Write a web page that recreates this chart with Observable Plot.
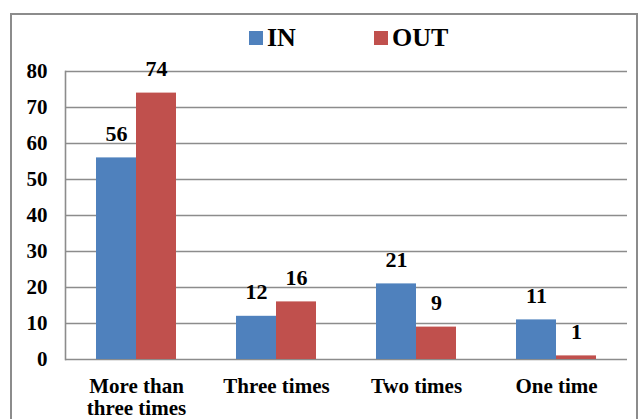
<!DOCTYPE html>
<html>
<head>
<meta charset="utf-8">
<script src="https://cdn.jsdelivr.net/npm/d3@7"></script>
<script src="https://cdn.jsdelivr.net/npm/@observablehq/plot@0.6"></script>
<style>
  html, body { margin: 0; padding: 0; background: #fff; }
  #wrap { position: relative; width: 641px; height: 419px; overflow: hidden; font-family: 'Liberation Serif', serif; font-weight: bold; }
  #border { position: absolute; left: 10px; top: 13px; width: 628px; height: 440px; border: 2px solid #8c8c8c; box-sizing: border-box; }
  #legend { position: absolute; left: 249px; top: 26px; display: flex; align-items: center; font-family: 'Liberation Serif', serif; font-weight: bold; font-size: 26px; line-height: 24px; color: #000; }
  .item { display: flex; align-items: center; width: 125px; }
  .sw { width: 14px; height: 14px; margin-right: 4px; }
  #chart { position: absolute; left: 0; top: 0; }
  #chart svg text { font-family: 'Liberation Serif', serif; font-weight: bold; }
</style>
</head>
<body>
<div id="wrap">
  <div id="border"></div>
  <div id="chart"></div>
  <div id="legend"></div>
</div>
<script>
const categories = ["More than\nthree times", "Three times", "Two times", "One time"];
const series = ["IN", "OUT"];
const inValues = [56, 12, 21, 11];
const outValues = [74, 16, 9, 1];
const colors = ["#4F81BD", "#C0504D"];
const yTicks = [0, 10, 20, 30, 40, 50, 60, 70, 80];

const inRows = categories.map((c, i) => ({category: c, series: "IN", value: inValues[i]}));
const outRows = categories.map((c, i) => ({category: c, series: "OUT", value: outValues[i]}));

const font = "Liberation Serif";

const chart = Plot.plot({
  width: 641,
  height: 419,
  marginLeft: 65,
  marginRight: 14,
  marginTop: 71,
  marginBottom: 60,
  style: {fontFamily: font, fontWeight: "bold", background: "transparent", color: "#000"},
  x: {domain: categories, padding: 0},
  y: {domain: [0, 80]},
  marks: [
    Plot.ruleY(yTicks, {stroke: "#8c8c8c", strokeWidth: 1.6}),
    Plot.barY(inRows, {x: "category", y: "value", fill: colors[0], insetLeft: 30, insetRight: 70}),
    Plot.barY(outRows, {x: "category", y: "value", fill: colors[1], insetLeft: 70, insetRight: 30}),
    Plot.text(inRows, {x: "category", y: "value", text: d => String(d.value), dx: -20, dy: -24, fontSize: 22, fontFamily: font, fontWeight: "bold", fill: "#000"}),
    Plot.text(outRows, {x: "category", y: "value", text: d => String(d.value), dx: 20, dy: -24, fontSize: 22, fontFamily: font, fontWeight: "bold", fill: "#000"}),
    Plot.frame({anchor: "left", stroke: "#8c8c8c", strokeWidth: 1.6}),
    Plot.axisY(yTicks, {tickSize: 0, tickPadding: 18, fontSize: 21, fontFamily: font, fontWeight: "bold", label: null}),
    Plot.axisX({tickSize: 0, tickPadding: 18, fontSize: 21, fontFamily: font, fontWeight: "bold", lineHeight: 1.05, label: null})
  ]
});
document.getElementById("chart").appendChild(chart);

const legend = document.getElementById("legend");
series.forEach((s, i) => {
  const item = document.createElement("div");
  item.className = "item";
  const sw = document.createElement("div");
  sw.className = "sw";
  sw.style.background = colors[i];
  const t = document.createElement("span");
  t.textContent = s;
  item.appendChild(sw);
  item.appendChild(t);
  legend.appendChild(item);
});
</script>
</body>
</html>
